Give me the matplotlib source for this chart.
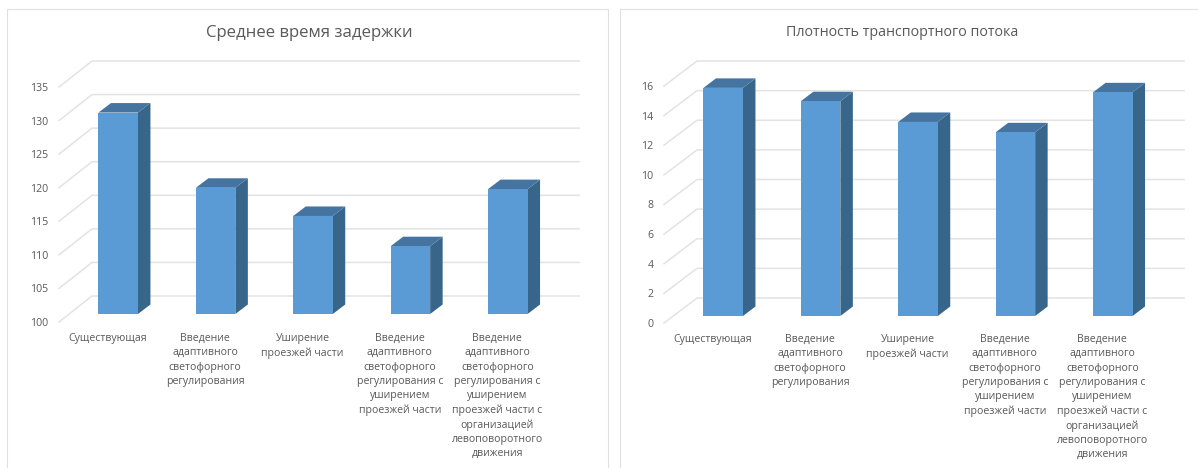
#!/usr/bin/env python3
"""Two pseudo-3D Excel style column charts side by side."""

import matplotlib

matplotlib.use("Agg")
import matplotlib.pyplot as plt
from matplotlib.patches import Rectangle

W, H = 1198, 468

CATEGORIES = [
    "Существующая",
    "Введение\nадаптивного\nсветофорного\nрегулирования",
    "Уширение\nпроезжей части",
    "Введение\nадаптивного\nсветофорного\nрегулирования с\nуширением\nпроезжей части",
    "Введение\nадаптивного\nсветофорного\nрегулирования с\nуширением\nпроезжей части с\nорганизацией\nлевоповоротного\nдвижения",
]

DELAY_TITLE = "Среднее время задержки"
DELAY_VALUES = [130.0, 118.8, 114.6, 110.1, 118.6]
DELAY_TICKS = [100, 105, 110, 115, 120, 125, 130, 135]

DENSITY_TITLE = "Плотность транспортного потока"
DENSITY_VALUES = [15.4, 14.5, 13.1, 12.4, 15.1]
DENSITY_TICKS = [0, 2, 4, 6, 8, 10, 12, 14, 16]

FRONT = "#5B9BD5"
SIDE = "#38658A"
TOP = "#44749F"
GRID = "#E3E3E3"
TEXT = "#595959"
FONT = "Open Sans"


def draw_panel(fig, box, plane, depth, values, ticks, title, title_xy, title_size):
    # panel frame, in pixels from the top left corner
    left, top, right, bottom = box
    fig.add_artist(
        Rectangle(
            (left / W, 1 - bottom / H),
            (right - left) / W,
            (bottom - top) / H,
            transform=fig.transFigure,
            facecolor="white",
            edgecolor="#E0E0E0",
            linewidth=0.8,
            zorder=-1,
        )
    )
    fig.text(title_xy[0] / W, 1 - title_xy[1] / H, title, ha="center", va="center",
             fontsize=title_size, color=TEXT, family=FONT)

    # axes = front plane of the chart floor
    x0, x1, y_low, y_high = plane
    ax = fig.add_axes([x0 / W, 1 - y_low / H, (x1 - x0) / W, (y_low - y_high) / H])
    ax.patch.set_visible(False)
    ax.set_xlim(-0.5, len(values) - 0.5)
    ax.set_ylim(ticks[0], ticks[-1])
    for spine in ax.spines.values():
        spine.set_visible(False)

    px_x = (len(values)) / (x1 - x0)
    px_y = (ticks[-1] - ticks[0]) / (y_low - y_high)
    wall_dy, bar_off_y = depth
    back_x, back_y = 33 * px_x, wall_dy * px_y

    # floor/wall grid: oblique part + back wall part
    for tick in ticks:
        ax.plot([-0.5, -0.5 + back_x, len(values) - 0.5 + back_x],
                [tick, tick + back_y, tick + back_y],
                color=GRID, linewidth=1.1, clip_on=False, zorder=1, solid_joinstyle="miter")

    # columns
    width = 39.5 * px_x
    off_x, off_y = 10.5 * px_x, bar_off_y * px_y
    dep_x, dep_y = 12.5 * px_x, 9.5 * px_y
    base = ticks[0] + off_y
    for i, value in enumerate(values):
        xl = i - width / 2 + off_x
        xr = xl + width
        yt = value + off_y
        ax.fill([xr, xr + dep_x, xr + dep_x, xr],
                [base, base + dep_y, yt + dep_y, yt],
                color=SIDE, linewidth=0, clip_on=False, zorder=2)
        ax.fill([xl, xr, xr + dep_x, xl + dep_x],
                [yt, yt, yt + dep_y, yt + dep_y],
                color=TOP, linewidth=0, clip_on=False, zorder=2)
        ax.bar(xl, yt - base, width=width, bottom=base, align="edge",
               color=FRONT, linewidth=0, clip_on=False, zorder=3)

    ax.set_yticks(ticks)
    ax.set_xticks(range(len(values)))
    ax.set_xticklabels(CATEGORIES, linespacing=1.4)
    ax.tick_params(axis="both", length=0, colors=TEXT)
    ax.tick_params(axis="y", pad=7.5, labelsize=7.6)
    ax.tick_params(axis="x", pad=8, labelsize=7.6)
    for label in ax.get_xticklabels() + ax.get_yticklabels():
        label.set_family(FONT)


def main():
    fig = plt.figure(figsize=(W / 100, H / 100), dpi=100)
    fig.patch.set_facecolor("white")

    draw_panel(fig, (7, 9, 608, 475), (59, 546, 322, 87), (26, 8),
               DELAY_VALUES, DELAY_TICKS, DELAY_TITLE, (309, 33), 12.1)
    draw_panel(fig, (620, 9, 1205, 475), (664, 1151, 323, 86), (25, 7),
               DENSITY_VALUES, DENSITY_TICKS, DENSITY_TITLE, (902, 33), 10.3)

    fig.savefig("out.png", dpi=100)


if __name__ == "__main__":
    main()
